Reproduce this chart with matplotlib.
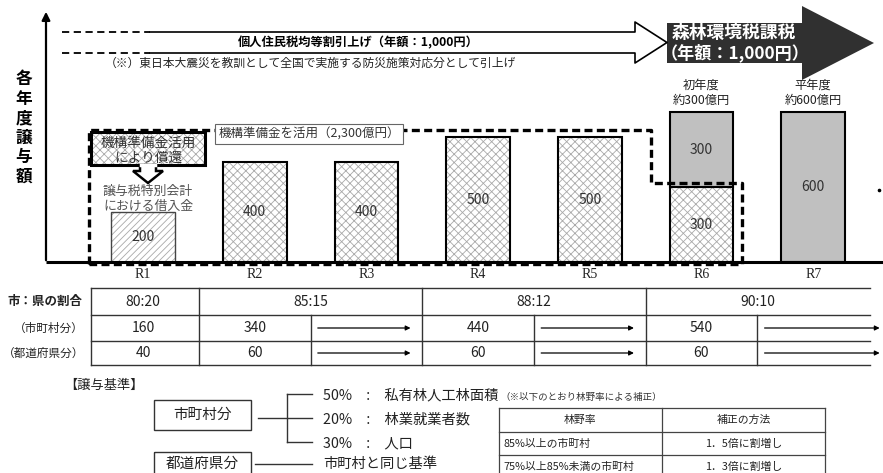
import matplotlib
matplotlib.use("Agg")
import numpy as np
import matplotlib.pyplot as plt
from matplotlib.patches import Polygon, Rectangle
from matplotlib.transforms import blended_transform_factory

plt.rcParams['font.family'] = ['Noto Sans CJK JP', 'DejaVu Sans']
plt.rcParams['hatch.linewidth'] = 0.6

# === Data (億円) ===
years = ["R1", "R2", "R3", "R4", "R5", "R6", "R7"]
loan_amount = [200, 0, 0, 0, 0, 0, 0]            # 譲与税特別会計における借入金
reserve_amount = [0, 400, 400, 500, 500, 300, 0]  # 機構準備金を活用
tax_amount = [0, 0, 0, 0, 0, 300, 600]            # 森林環境税
tax_notes = {5: ("初年度", "約300億円"), 6: ("平年度", "約600億円")}

ratio_labels = ["80:20", "85:15", "88:12", "90:10"]
ratio_start = [0, 1, 3, 5]
ratio_span = [1, 2, 2, 2]
city_share = [160, 340, 440, 540]
pref_share = [40, 60, 60, 60]

city_criteria = [("50%", "私有林人工林面積"), ("20%", "林業就業者数"), ("30%", "人口")]
forest_rate = ["85%以上の市町村", "75%以上85%未満の市町村"]
rate_bonus = ["1．5倍に割増し", "1．3倍に割増し"]

# === Layout (pixels) ===
W_PX, H_PX = 883, 473
BASE_Y, TOP_Y, AXIS_X = 262, 12, 46
X0_PX, STEP_PX = 143, 111.7
HATCH_GREY = '#a9a9a9'
TXT = '#222222'

fig = plt.figure(figsize=(W_PX / 100, H_PX / 100), dpi=100)

# bar axes: x = year index, y = 億円
bx = fig.add_axes([AXIS_X / W_PX, (H_PX - BASE_Y) / H_PX,
                   (W_PX - AXIS_X) / W_PX, (BASE_Y - TOP_Y) / H_PX])
bx.set_xlim(-(X0_PX - AXIS_X) / STEP_PX, 6 + (W_PX - (X0_PX + 6 * STEP_PX)) / STEP_PX)
bx.set_ylim(0, 1000)
bx.axis('off')
bx.set_zorder(1)

# overlay axes in pixel units for the annotations
ov = fig.add_axes([0, 0, 1, 1])
ov.set_xlim(0, W_PX)
ov.set_ylim(H_PX, 0)
ov.axis('off')
ov.set_zorder(3)
tb = blended_transform_factory(bx.transData, ov.transData)

x = np.arange(len(years))
W = 0.57

def hatched_bars(xs, heights, hatch, bottom=None, edge_lw=1.5, edge='black'):
    xs = np.asarray(xs)
    h = np.asarray(heights)
    b = np.zeros_like(h) if bottom is None else np.asarray(bottom)
    m = h > 0
    bx.bar(xs[m], h[m], W, bottom=b[m], color='white', edgecolor=HATCH_GREY,
           hatch=hatch, lw=0)
    bx.bar(xs[m], h[m], W, bottom=b[m], fill=False, edgecolor=edge, lw=edge_lw)

hatched_bars(x, loan_amount, '/////', edge_lw=1.0, edge='#444444')
hatched_bars(x, reserve_amount, 'xxxx')
tax = np.asarray(tax_amount)
mt = tax > 0
bx.bar(x[mt], tax[mt], W, bottom=np.asarray(reserve_amount)[mt],
       color='#c0c0c0', edgecolor='black', lw=1.5)

# value labels inside bars
for i in x:
    for val, base in ((loan_amount[i], 0), (reserve_amount[i], 0),
                      (tax_amount[i], reserve_amount[i])):
        if val > 0:
            bx.text(i, base + val / 2, str(val), ha='center', va='center',
                    fontsize=10, color='#333333')

for i, (l1, l2) in tax_notes.items():
    top = reserve_amount[i] + tax_amount[i]
    bx.text(i, top + 108, l1, ha='center', va='center', fontsize=8.8, color=TXT, clip_on=False)
    bx.text(i, top + 48, l2, ha='center', va='center', fontsize=8.8, color=TXT, clip_on=False)

# 機構準備金 dashed region
rx = [-0.483, -0.483, 4.548, 4.548, 5.363, 5.363, -0.483]
ry = [-8, 528, 528, 316, 316, -8, -8]
bx.plot(rx, ry, color='black', lw=2.4, ls=(0, (2.4, 1.3)), clip_on=False, zorder=4)

# year labels
for i, y in enumerate(years):
    ov.text(i, 274, y, transform=tb, ha='center', va='center', fontsize=10,
            family='Liberation Serif', color=TXT)

# axes lines
ov.plot([AXIS_X, W_PX], [BASE_Y, BASE_Y], color='black', lw=2.2, solid_capstyle='butt')
ov.annotate('', xy=(AXIS_X, 9), xytext=(AXIS_X, BASE_Y + 1),
            arrowprops=dict(arrowstyle='-|>', lw=1.6, color='black', mutation_scale=12))
for k, ch in enumerate("各年度譲与額"):
    ov.text(24, 79 + 19.6 * k, ch, ha='center', va='center', fontsize=12,
            fontweight='bold', color='black')

# 個人住民税均等割 arrow
for yy in (32, 53):
    ov.plot([62, 150], [yy, yy], color='black', lw=1.3, ls=(0, (4, 2.5)))
ov.plot([150, 635, 635, 667, 635, 635, 150], [32, 32, 22, 42.5, 63, 53, 53],
        color='black', lw=1.2)
ov.text(358, 43, "個人住民税均等割引上げ（年額：1,000円）", ha='center', va='center',
        fontsize=8.8, fontweight='bold', color='black')
ov.text(105, 63, "（※）東日本大震災を教訓として全国で実施する防災施策対応分として引上げ",
        ha='left', va='center', fontsize=8.5, color=TXT)

# 森林環境税 arrow
ov.add_patch(Polygon([(667, 23), (802, 23), (802, 6), (874, 43), (802, 80), (802, 63),
                      (667, 63)], closed=True, facecolor='#303030', edgecolor='none'))
ov.text(734, 33, "森林環境税課税", ha='center', va='center', fontsize=12.8,
        fontweight='bold', color='white')
ov.text(735, 53, "（年額：1,000円）", ha='center', va='center', fontsize=12.3,
        fontweight='bold', color='white')

# 機構準備金 label box
ov.text(309, 134, "機構準備金を活用（2,300億円）", ha='center', va='center', fontsize=9,
        color='#333333',
        bbox=dict(boxstyle='square,pad=0.25', facecolor='white', edgecolor='#666666', lw=0.8))

# callout: 機構準備金活用により償還
ov.add_patch(Rectangle((91, 132), 114, 33, facecolor='white', edgecolor=HATCH_GREY,
                       hatch='xxxx', lw=0, zorder=5))
ov.add_patch(Rectangle((91, 132), 114, 33, fill=False, edgecolor='black', lw=2.2, zorder=6))
ov.add_patch(Polygon([(140, 165), (156, 165), (156, 171), (163, 171), (148, 183),
                      (133, 171), (140, 171)], closed=True, facecolor='white',
                     edgecolor='black', lw=1.8, joinstyle='miter', zorder=7))
ov.plot([141, 155], [165, 165], color='white', lw=2.5, zorder=8)
ov.text(148, 143, "機構準備金活用", ha='center', va='center', fontsize=9.8, color='#333333', zorder=9)
ov.text(148, 158, "により償還", ha='center', va='center', fontsize=9.8, color='#333333', zorder=9)
ov.text(148, 191, "譲与税特別会計", ha='center', va='center', fontsize=9.3, color='#555555')
ov.text(148, 206, "における借入金", ha='center', va='center', fontsize=9.3, color='#555555')

ov.plot([879], [190], marker='o', ms=1.6, color='black')

# === Share table ===
T_L, T_R = -0.465, 6.51
row_y = [288, 315, 341, 365]
line_kw = dict(color='#333333', lw=1.0, transform=tb, clip_on=False)
for yy in row_y:
    ov.plot([T_L, T_R], [yy, yy], **line_kw)
ov.plot([T_L, T_L], [row_y[0], row_y[-1]], **line_kw)
for s in ratio_start[1:]:
    ov.plot([s - 0.5, s - 0.5], [row_y[0], row_y[-1]], **line_kw)
for s, n in zip(ratio_start, ratio_span):
    if n > 1:
        ov.plot([s + 0.5, s + 0.5], [row_y[1], row_y[-1]], **line_kw)

row_mid = [(row_y[k] + row_y[k + 1]) / 2 for k in range(3)]
for lab, s, n, c, p in zip(ratio_labels, ratio_start, ratio_span, city_share, pref_share):
    ov.text(s + (n - 1) / 2, row_mid[0], lab, transform=tb, ha='center', va='center',
            fontsize=10, color=TXT)
    ov.text(s, row_mid[1], str(c), transform=tb, ha='center', va='center', fontsize=10, color=TXT)
    ov.text(s, row_mid[2], str(p), transform=tb, ha='center', va='center', fontsize=10, color=TXT)
    for k in range(1, n):
        end = s + k + 0.42 if s + k < len(years) - 1 else s + k + 0.62
        for ym in row_mid[1:]:
            ov.annotate('', xy=(end, ym), xytext=(s + k - 0.46, ym), xycoords=tb, textcoords=tb,
                        arrowprops=dict(arrowstyle='-|>', lw=0.9, color='black',
                                        mutation_scale=7), annotation_clip=False)

ov.text(45, row_mid[0], "市：県の割合", ha='center', va='center', fontsize=9,
        fontweight='bold', color=TXT)
ov.text(84, row_mid[1], "（市町村分）", ha='right', va='center', fontsize=8.4, color=TXT)
ov.text(84, row_mid[2], "（都道府県分）", ha='right', va='center', fontsize=8.4, color=TXT)

# === 譲与基準 ===
ov.text(64, 385, "【譲与基準】", ha='left', va='center', fontsize=9.5, color=TXT)
ov.add_patch(Rectangle((154, 400), 97, 30, fill=False, edgecolor='#333333', lw=1.0))
ov.text(202, 415, "市町村分", ha='center', va='center', fontsize=10.5, color=TXT)
ov.add_patch(Rectangle((154, 452), 97, 30, fill=False, edgecolor='#333333', lw=1.0))
ov.text(202, 464, "都道府県分", ha='center', va='center', fontsize=10.5, color=TXT)

crit_y = [394, 418, 442]
ov.plot([287, 287], [crit_y[0], crit_y[-1]], color='#333333', lw=1.0)
ov.plot([258, 312], [crit_y[1], crit_y[1]], color='#333333', lw=1.0)
for yy in (crit_y[0], crit_y[-1]):
    ov.plot([287, 312], [yy, yy], color='#333333', lw=1.0)
for yy, (pct, name) in zip(crit_y, city_criteria):
    ov.text(323, yy + 1, f"{pct}　:　{name}", ha='left', va='center', fontsize=10.3, color=TXT)
ov.plot([255, 312], [464, 464], color='#333333', lw=1.0)
ov.text(323, 464, "市町村と同じ基準", ha='left', va='center', fontsize=10.3, color=TXT)
ov.text(500, 397, "（※以下のとおり林野率による補正）", ha='left', va='center',
        fontsize=6.8, color='#333333')

# 林野率 correction table
tr_y = [408, 432, 455, 478]
for yy in tr_y:
    ov.plot([499, 825], [yy, yy], color='#444444', lw=0.9, clip_on=False)
for xx in (499, 662, 825):
    ov.plot([xx, xx], [tr_y[0], tr_y[-1]], color='#444444', lw=0.9, clip_on=False)
ov.text(580, 420, "林野率", ha='center', va='center', fontsize=7.8, color=TXT)
ov.text(744, 420, "補正の方法", ha='center', va='center', fontsize=7.8, color=TXT)
for k, (r, b) in enumerate(zip(forest_rate, rate_bonus)):
    ym = (tr_y[k + 1] + tr_y[k + 2]) / 2
    ov.text(503, ym, r, ha='left', va='center', fontsize=7.8, color=TXT)
    ov.text(744, ym, b, ha='center', va='center', fontsize=7.8, color=TXT)

fig.savefig("out.png", dpi=100)
